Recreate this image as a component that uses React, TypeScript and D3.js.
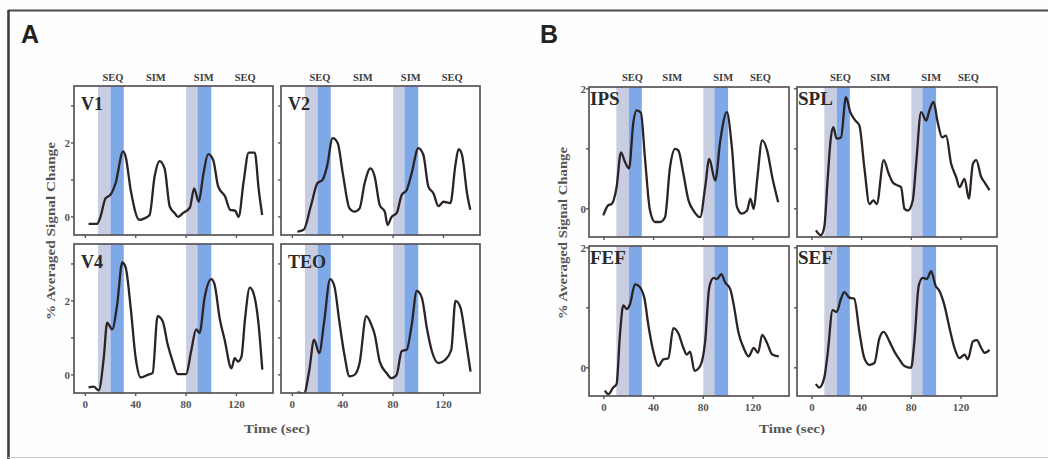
import React from "react";
import * as d3 from "d3";

// ---------- data ----------
const xTicks = [0, 40, 80, 120];
const yTicksA = [0, 1, 2, 3];
const yTicksB = [0, 1, 2];
const yTickLabels = [0, 2];
const conditionLabels = ["SEQ", "SIM", "SIM", "SEQ"];
const conditionTimesA = [22, 56, 94, 127];
const conditionTimesB = [23, 55, 96, 126];
const grayBands: [number, number][] = [[10, 20], [80, 89]];
const blueBands: [number, number][] = [[20, 30.5], [89, 100]];

const v1: [number, number][] = [
  [2.6, -0.19], [9.3, -0.19], [12, 0], [16, 0.5], [20, 0.6], [24, 0.91], [30, 1.77], [32, 1.63],
  [36, 0.73], [43, -0.08], [47, -0.04], [51, 0.05], [55, 1.09], [59, 1.51], [63, 1.3], [67, 0.28],
  [71, 0.1], [73.5, 0], [77.5, 0.1], [83, 0.25], [86.4, 0.77], [90, 0.41], [93.6, 1.13], [97.5, 1.7],
  [101.5, 1.54], [105.5, 0.82], [111, 0.55], [115, 0.19], [119, 0.17], [121.7, 0], [125.7, 0.96],
  [129.7, 1.74], [134.5, 1.74], [137.7, 0.73], [140.4, 0.05],
];
const v2: [number, number][] = [
  [4, -0.4], [9, -0.35], [14.6, 0.28], [19.9, 0.91], [24, 1.0], [27.5, 1.36], [32, 2.13], [36, 2.0],
  [40, 1.19], [45.4, 0.23], [49.4, 0.14], [53.4, 0.23], [57.4, 0.91], [62, 1.31], [65.4, 1.09],
  [69.4, 0.32], [73.4, 0.14], [75.6, -0.22], [78.8, 0], [82.8, 0.1], [86.8, 0.59], [90.8, 0.73],
  [94.8, 1.19], [100, 1.86], [104, 1.68], [108, 0.82], [112, 0.64], [116, 0.29], [120, 0.41],
  [125.5, 0.37], [129.5, 1.41], [132, 1.83], [134.7, 1.68], [138.7, 0.64], [141.3, 0.19],
];
const v4: [number, number][] = [
  [2.6, -0.34], [6.6, -0.32], [10.6, -0.42], [14.6, 0.45], [17.3, 1.41], [21.3, 1.23], [25.3, 1.91],
  [29.3, 3.04], [32, 2.91], [36, 1.82], [40, 0.45], [44, -0.07], [49.4, 0], [53.4, 0.05], [57.4, 1.59],
  [61.4, 1.45], [65.4, 0.82], [69.4, 0.36], [73.4, 0.02], [80, 0.02], [84, 0.64], [88, 1.23],
  [90.7, 1.14], [94.7, 2.09], [100, 2.59], [102.6, 2.45], [106.6, 1.54], [110.6, 0.95], [116, 0.18],
  [118.6, 0.45], [121.3, 0.36], [124, 0.5], [126.6, 1.45], [130.6, 2.36], [133.3, 2.23], [137.3, 1.45],
  [140.5, 0.14],
];
const teo: [number, number][] = [
  [4, -0.47], [9.3, -0.5], [13.3, 0.09], [17.3, 0.95], [21.3, 0.59], [25.3, 1.45], [30, 2.59],
  [33.3, 2.41], [37.3, 1.45], [41.3, 0.55], [45.4, -0.04], [49.4, 0], [53.4, 0.32], [58.7, 1.59],
  [62.7, 1.36], [65.4, 1.09], [69.4, 0.36], [74.8, 0.05], [78.8, -0.09], [82.8, 0], [86.8, 0.64],
  [90.8, 0.68], [94.8, 1.36], [98.8, 2.27], [102.8, 2.09], [106.8, 1.27], [110.8, 0.64], [116, 0.32],
  [121.4, 0.41], [126.2, 0.68], [129.5, 2.0], [133.5, 1.82], [137.5, 1.0], [141.5, 0.09],
];
const ips: [number, number][] = [
  [-0.5, -0.11], [3.5, 0.06], [6.2, 0.08], [10.2, 0.36], [13.7, 0.94], [17, 0.78], [20.2, 0.67],
  [23.7, 1.44], [26.3, 1.64], [29.8, 1.6], [33, 0.86], [37.1, -0.03], [41.1, -0.22], [45.2, -0.22],
  [49.2, -0.14], [53.2, 0.69], [57.3, 1.0], [60, 0.97], [64, 0.58], [68.1, 0.14], [72.1, -0.03],
  [77.5, -0.14], [81.5, 0.36], [84.8, 0.83], [89.6, 0.47], [93.7, 1.14], [99, 1.61], [103, 1.03],
  [107.1, 0.03], [111.1, -0.08], [115.2, -0.03], [117.9, 0.17], [120.6, 0], [123.3, 0.47],
  [127.4, 1.14], [131.4, 0.97], [135.5, 0.53], [140.3, 0.11],
];
const spl: [number, number][] = [
  [3.2, -0.36], [7.3, -0.44], [10, -0.3], [12.6, 0.47], [15.3, 1.19], [17.2, 1.36], [19.9, 1.17],
  [23.4, 1.19], [27.4, 1.86], [30.9, 1.61], [35, 1.47], [38.2, 1.39], [42.2, 0.69], [46.3, 0.08],
  [49.5, 0.14], [52.2, 0.08], [57.8, 0.81], [61.9, 0.58], [65.1, 0.44], [69.1, 0.39], [71.8, 0.36],
  [74.5, 0], [77.2, -0.03], [81.2, 0.14], [83.9, 0.75], [87.9, 1.61], [92, 1.47], [94.6, 1.64],
  [97.9, 1.78], [101.3, 1.44], [104.8, 1.19], [108, 1.22], [112.1, 0.75], [116.1, 0.53],
  [118.8, 0.36], [122.9, 0.5], [126.3, 0.17], [129.6, 0.75], [132.3, 0.81], [136.3, 0.53],
  [139, 0.44], [143, 0.31],
];
const fef: [number, number][] = [
  [0.8, -0.38], [3.5, -0.44], [7.5, -0.33], [10.2, -0.27], [12.9, 0.55], [15.6, 1.04], [18.3, 0.98],
  [21, 1.06], [25, 1.39], [27.7, 1.37], [32.5, 1.17], [35.8, 0.71], [39.8, 0.27], [43.8, 0.03],
  [47.8, 0.14], [51.9, 0.16], [55.9, 0.66], [60, 0.57], [64, 0.33], [66.7, 0.22], [69.4, 0.27],
  [72.9, -0.05], [77.5, 0.03], [81.5, 0.44], [84.8, 1.34], [88.3, 1.5], [91, 1.48], [94.5, 1.56],
  [97.7, 1.42], [101.7, 1.31], [104.4, 1.06], [108.5, 0.57], [112.5, 0.33], [116.5, 0.19],
  [120.6, 0.33], [124.1, 0.25], [127.4, 0.55], [131.4, 0.41], [135.5, 0.22], [140.8, 0.19],
];
const sef: [number, number][] = [
  [3.2, -0.27], [5.9, -0.33], [10, -0.16], [12.6, 0.22], [16.7, 0.96], [19.9, 0.93], [23.4, 1.15],
  [26.1, 1.26], [30.1, 1.17], [34.1, 1.15], [38.2, 0.6], [42.2, 0.16], [46.3, 0.05], [50.3, 0.08],
  [54.3, 0.49], [57.8, 0.6], [62.4, 0.44], [66.4, 0.27], [70.4, 0.14], [74.5, 0.03], [79.8, 0],
  [82.5, 0.44], [86, 1.37], [89.2, 1.5], [92.5, 1.48], [96, 1.61], [99.5, 1.37], [102.7, 1.28],
  [106.7, 1.04], [110.8, 0.66], [114.8, 0.33], [118.8, 0.16], [122.9, 0.22], [125.5, 0.14],
  [129.6, 0.44], [132.8, 0.46], [136.3, 0.33], [139, 0.25], [143, 0.3],
];

// ---------- styling ----------
const SERIF = "'Liberation Serif', 'Times New Roman', serif";
const SANS = "'Liberation Sans', Arial, sans-serif";
const GRAY_BAND = "#c8cde2";
const BLUE_BAND = "#7ea8e6";
const LINE = "#2b2326";
const BOX = "#5a5458";

type PanelProps = {
  id: string;
  name: string;
  data: [number, number][];
  x0: number;
  y0: number;
  w: number;
  h: number;
  xDomain: [number, number];
  yDomain: [number, number];
  yTicks: number[];
  showYLabels: boolean;
  showXLabels: boolean;
  labelSize: number;
  labelDx: number;
  labelDy: number;
  yLabelGap: number;
};

function Panel(p: PanelProps) {
  const x = d3.scaleLinear().domain(p.xDomain).range([p.x0, p.x0 + p.w]);
  const y = d3.scaleLinear().domain(p.yDomain).range([p.y0 + p.h, p.y0]);
  const line = d3
    .line<[number, number]>()
    .x((d) => x(d[0]))
    .y((d) => y(d[1]))
    .curve(d3.curveMonotoneX);
  const clipId = `clip-${p.id}`;
  return (
    <g>
      <defs>
        <clipPath id={clipId}>
          <rect x={p.x0} y={p.y0} width={p.w} height={p.h} />
        </clipPath>
      </defs>
      <rect x={p.x0} y={p.y0} width={p.w} height={p.h} fill="#fff" />
      <g clipPath={`url(#${clipId})`}>
        {grayBands.map((b, i) => (
          <rect key={`g${i}`} x={x(b[0])} y={p.y0} width={x(b[1]) - x(b[0])} height={p.h} fill={GRAY_BAND} />
        ))}
        {blueBands.map((b, i) => (
          <rect key={`b${i}`} x={x(b[0])} y={p.y0} width={x(b[1]) - x(b[0])} height={p.h} fill={BLUE_BAND} />
        ))}
        <path d={line(p.data) || ""} fill="none" stroke={LINE} strokeWidth={2.3} strokeLinejoin="round" />
      </g>
      <rect x={p.x0} y={p.y0} width={p.w} height={p.h} fill="none" stroke={BOX} strokeWidth={1.7} />
      {xTicks.map((t) => (
        <line key={`xt${t}`} x1={x(t)} x2={x(t)} y1={p.y0 + p.h} y2={p.y0 + p.h + 3} stroke={BOX} strokeWidth={1.4} />
      ))}
      {p.yTicks.map((t) => (
        <line key={`yt${t}`} x1={p.x0 - 3} x2={p.x0} y1={y(t)} y2={y(t)} stroke={BOX} strokeWidth={1.4} />
      ))}
      {p.showXLabels &&
        xTicks.map((t) => (
          <text key={`xl${t}`} x={x(t)} y={p.y0 + p.h + 15} textAnchor="middle" fontFamily={SERIF} fontWeight="bold" fontSize={11} fill="#555">
            {t}
          </text>
        ))}
      {p.showYLabels &&
        yTickLabels.map((t) => (
          <text key={`yl${t}`} x={p.x0 - p.yLabelGap} y={y(t) + 4} textAnchor="end" fontFamily={SERIF} fontWeight="bold" fontSize={11} fill="#555">
            {t}
          </text>
        ))}
      <text x={p.x0 + p.labelDx} y={p.y0 + p.labelDy} fontFamily={SERIF} fontWeight="bold" fontSize={p.labelSize} fill="#2a2a2a">
        {p.name}
      </text>
    </g>
  );
}

export default function App() {
  const W = 1048;
  const H = 459;

  const xDomA: [number, number] = [-9, 149];
  const yDomA: [number, number] = [-0.49, 3.54];
  const xDomB: [number, number] = [-12, 149];
  const yDomB: [number, number] = [-0.47, 2.03];

  const colsA = [74, 281];
  const rowsA = [86, 244];
  const colsB = [589, 797];
  const rowsB = [87, 246];

  const panelsA = [
    { id: "v1", name: "V1", data: v1, c: 0, r: 0 },
    { id: "v2", name: "V2", data: v2, c: 1, r: 0 },
    { id: "v4", name: "V4", data: v4, c: 0, r: 1 },
    { id: "teo", name: "TEO", data: teo, c: 1, r: 1 },
  ];
  const panelsB = [
    { id: "ips", name: "IPS", data: ips, c: 0, r: 0 },
    { id: "spl", name: "SPL", data: spl, c: 1, r: 0 },
    { id: "fef", name: "FEF", data: fef, c: 0, r: 1 },
    { id: "sef", name: "SEF", data: sef, c: 1, r: 1 },
  ];

  const condA = (col: number) => d3.scaleLinear().domain(xDomA).range([colsA[col], colsA[col] + 199]);
  const condB = (col: number) => d3.scaleLinear().domain(xDomB).range([colsB[col], colsB[col] + 200]);

  return (
    <svg width={W} height={H} style={{ position: "absolute", left: 0, top: 0, background: "#fff" }}>
      <rect x={0} y={0} width={W} height={H} fill="#fefefe" />
      {/* outer frame */}
      <line x1={8} x2={W} y1={10.5} y2={10.5} stroke="#4a4a4a" strokeWidth={2.2} />
      <line x1={8.5} x2={8.5} y1={10} y2={H} stroke="#3f3f3f" strokeWidth={2.6} />
      <line x1={8} x2={W} y1={457.5} y2={457.5} stroke="#c8c8c8" strokeWidth={1} />

      <text x={21} y={43} fontFamily={SANS} fontWeight="bold" fontSize={25} fill="#222">A</text>
      <text x={540} y={43} fontFamily={SANS} fontWeight="bold" fontSize={25} fill="#222">B</text>

      {[0, 1].map((c) =>
        conditionLabels.map((l, i) => (
          <text key={`ca${c}${i}`} x={condA(c)(conditionTimesA[i])} y={81} textAnchor="middle" fontFamily={SERIF} fontWeight="bold" fontSize={10.5} fill="#3c3c3c">
            {l}
          </text>
        ))
      )}
      {[0, 1].map((c) =>
        conditionLabels.map((l, i) => (
          <text key={`cb${c}${i}`} x={condB(c)(conditionTimesB[i])} y={81} textAnchor="middle" fontFamily={SERIF} fontWeight="bold" fontSize={10.5} fill="#3c3c3c">
            {l}
          </text>
        ))
      )}

      {panelsA.map((p) => (
        <Panel
          key={p.id}
          id={p.id}
          name={p.name}
          data={p.data}
          x0={colsA[p.c]}
          y0={rowsA[p.r]}
          w={199}
          h={149}
          xDomain={xDomA}
          yDomain={yDomA}
          yTicks={yTicksA}
          showYLabels={p.c === 0}
          showXLabels={p.r === 1}
          labelSize={18}
          labelDx={7}
          labelDy={24}
          yLabelGap={4}
        />
      ))}
      {panelsB.map((p) => (
        <Panel
          key={p.id}
          id={p.id}
          name={p.name}
          data={p.data}
          x0={colsB[p.c]}
          y0={rowsB[p.r]}
          w={200}
          h={150}
          xDomain={xDomB}
          yDomain={yDomB}
          yTicks={yTicksB}
          showYLabels={p.c === 0}
          showXLabels={p.r === 1}
          labelSize={19}
          labelDx={1}
          labelDy={18}
          yLabelGap={3}
        />
      ))}

      {/* axis titles */}
      <text transform="translate(55,231) rotate(-90)" textAnchor="middle" fontFamily={SERIF} fontWeight="bold" fontSize={12} fill="#555" textLength={178} lengthAdjust="spacingAndGlyphs">
        % Averaged Signal Change
      </text>
      <text transform="translate(567,233) rotate(-90)" textAnchor="middle" fontFamily={SERIF} fontWeight="bold" fontSize={12} fill="#555" textLength={172} lengthAdjust="spacingAndGlyphs">
        % Averaged Signal Change
      </text>
      <text x={277} y={433} textAnchor="middle" fontFamily={SERIF} fontWeight="bold" fontSize={13} fill="#555" textLength={66} lengthAdjust="spacingAndGlyphs">
        Time (sec)
      </text>
      <text x={792} y={433} textAnchor="middle" fontFamily={SERIF} fontWeight="bold" fontSize={13} fill="#555" textLength={66} lengthAdjust="spacingAndGlyphs">
        Time (sec)
      </text>
    </svg>
  );
}
